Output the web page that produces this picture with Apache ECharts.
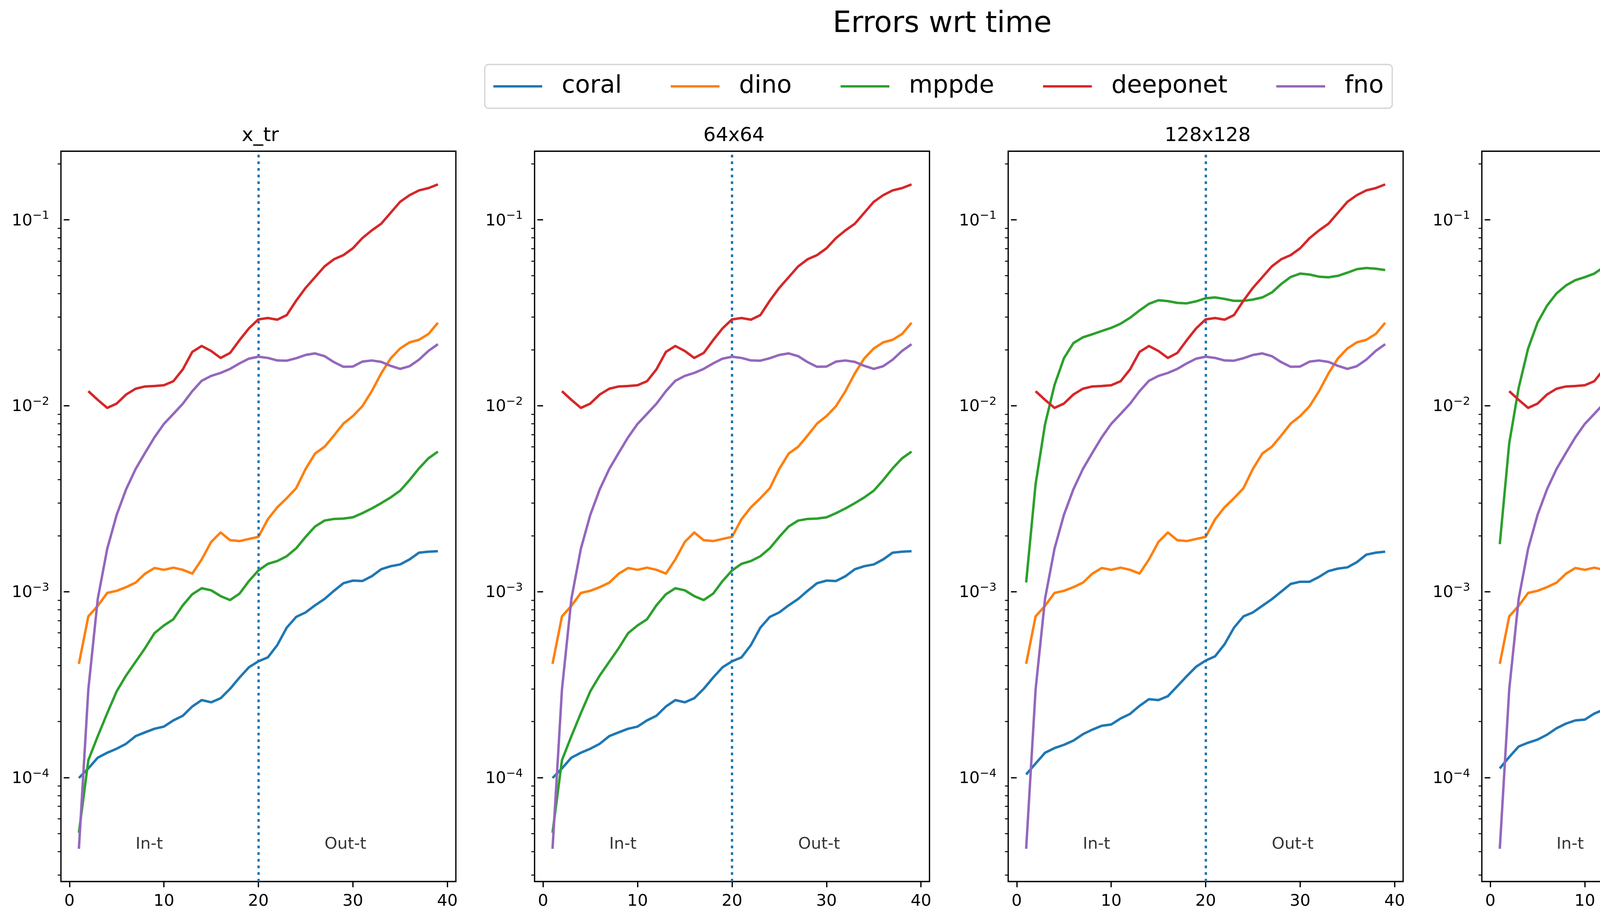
<!DOCTYPE html>
<html>
<head>
<meta charset="utf-8">
<script src="https://cdn.jsdelivr.net/npm/echarts@6/dist/echarts.min.js"></script>
<style>
  html, body { margin: 0; padding: 0; background: #fff; }
  #chart { width: 4840px; height: 2357px; }
</style>
</head>
<body>
<div id="chart"></div>
<script>
// time steps
var steps = [1,2,3,4,5,6,7,8,9,10,11,12,13,14,15,16,17,18,19,20,
             21,22,23,24,25,26,27,28,29,30,31,32,33,34,35,36,37,38,39];

// coral (x_tr and 64x64 look identical)
var coralA = [9.94e-5,1.12e-4,1.28e-4,1.36e-4,1.43e-4,1.52e-4,1.67e-4,1.75e-4,1.83e-4,1.88e-4,
              2.03e-4,2.15e-4,2.41e-4,2.61e-4,2.54e-4,2.67e-4,3.00e-4,3.45e-4,3.92e-4,4.22e-4,
              4.43e-4,5.16e-4,6.40e-4,7.31e-4,7.73e-4,8.44e-4,9.13e-4,1.01e-3,1.11e-3,1.146e-3,
              1.14e-3,1.21e-3,1.32e-3,1.37e-3,1.40e-3,1.49e-3,1.62e-3,1.64e-3,1.65e-3];
var coral128 = [1.04e-4,1.19e-4,1.36e-4,1.44e-4,1.50e-4,1.58e-4,1.71e-4,1.81e-4,1.90e-4,1.93e-4,
                2.08e-4,2.20e-4,2.43e-4,2.64e-4,2.61e-4,2.74e-4,3.10e-4,3.51e-4,3.95e-4,4.26e-4,
                4.49e-4,5.21e-4,6.40e-4,7.36e-4,7.73e-4,8.39e-4,9.10e-4,1.00e-3,1.10e-3,1.13e-3,
                1.13e-3,1.20e-3,1.29e-3,1.33e-3,1.35e-3,1.44e-3,1.58e-3,1.62e-3,1.64e-3];
var coral256 = [1.12e-4,1.29e-4,1.47e-4,1.54e-4,1.60e-4,1.70e-4,1.84e-4,1.95e-4,2.03e-4,2.05e-4,
                2.21e-4,2.32e-4,2.53e-4,2.74e-4,2.74e-4,2.87e-4,3.21e-4,3.60e-4,4.07e-4,4.38e-4,
                4.61e-4,5.32e-4,6.50e-4,7.48e-4,7.86e-4,8.50e-4,9.19e-4,1.01e-3,1.11e-3,1.14e-3,
                1.15e-3,1.22e-3,1.30e-3,1.33e-3,1.35e-3,1.44e-3,1.58e-3,1.62e-3,1.66e-3];

var dino = [4.09e-4,7.36e-4,8.39e-4,9.84e-4,1.01e-3,1.057e-3,1.117e-3,1.248e-3,1.34e-3,1.31e-3,
            1.345e-3,1.31e-3,1.25e-3,1.49e-3,1.85e-3,2.08e-3,1.89e-3,1.87e-3,1.92e-3,1.97e-3,
            2.45e-3,2.84e-3,3.18e-3,3.60e-3,4.57e-3,5.53e-3,6.01e-3,6.91e-3,8.01e-3,8.79e-3,
            9.93e-3,0.01196,0.01492,0.01795,0.0203,0.0219,0.0226,0.0243,0.0279];

// mppde (x_tr and 64x64 look identical)
var mppdeA = [5.05e-5,1.24e-4,1.67e-4,2.22e-4,2.91e-4,3.54e-4,4.19e-4,4.96e-4,5.98e-4,6.58e-4,
              7.10e-4,8.44e-4,9.68e-4,1.043e-3,1.016e-3,9.46e-4,9.01e-4,9.75e-4,1.14e-3,1.30e-3,
              1.41e-3,1.46e-3,1.55e-3,1.71e-3,1.97e-3,2.24e-3,2.41e-3,2.46e-3,2.47e-3,2.51e-3,
              2.64e-3,2.80e-3,2.99e-3,3.21e-3,3.49e-3,3.98e-3,4.60e-3,5.21e-3,5.66e-3];
var mppde128 = [1.12e-3,3.79e-3,7.94e-3,0.0129,0.0180,0.0217,0.0233,0.0242,0.0252,0.0262,
                0.0276,0.0297,0.0325,0.0353,0.0369,0.0365,0.0357,0.0355,0.0364,0.0378,
                0.0382,0.0375,0.0366,0.0366,0.0372,0.0382,0.0406,0.0451,0.0492,0.0513,
                0.0507,0.0494,0.0490,0.0499,0.0519,0.0542,0.0550,0.0545,0.0536];
var mppde256 = [1.80e-3,6.28e-3,0.01247,0.0203,0.0280,0.0345,0.0401,0.0443,0.0473,0.0491,
                0.0513,0.0555,0.0613,0.0673,0.0709,0.0701,0.0668,0.0646,0.0663,0.0706,
                0.0749,0.0763,0.0752,0.0733,0.0722,0.0743,0.0800,0.0901,0.1019,0.1089,
                0.1078,0.1038,0.1019,0.1038,0.113,0.1249,0.1355,0.1416,0.1422];

// deeponet has no value at step 1
var deeponet = [null,0.01196,0.01074,0.00973,0.01026,0.01148,0.01233,0.01268,0.01275,0.01288,
                0.01353,0.01568,0.01945,0.02094,0.01968,0.01806,0.0192,0.0225,0.02606,0.0291,
                0.0296,0.0290,0.0307,0.0367,0.0430,0.0491,0.0561,0.0613,0.0645,0.0702,
                0.0796,0.0876,0.0952,0.109,0.1248,0.1355,0.1438,0.1479,0.1549];

var fno = [4.14e-5,2.98e-4,9.16e-4,1.70e-3,2.59e-3,3.55e-3,4.56e-3,5.57e-3,6.76e-3,7.98e-3,
           9.03e-3,0.01025,0.01196,0.01361,0.01445,0.0150,0.01577,0.01687,0.0179,0.01833,
           0.01806,0.0175,0.01745,0.0180,0.01874,0.0191,0.01846,0.01714,0.01618,0.01623,
           0.01725,0.0175,0.0172,0.01637,0.01577,0.0163,0.01767,0.0197,0.0214];

var names = ['coral', 'dino', 'mppde', 'deeponet', 'fno'];
var panelTitles = ['x_tr', '64x64', '128x128', '256x256'];
var panelSeries = [
  [coralA, dino, mppdeA, deeponet, fno],
  [coralA, dino, mppdeA, deeponet, fno],
  [coral128, dino, mppde128, deeponet, fno],
  [coral256, dino, mppde256, deeponet, fno]
];

var xTicks = [0, 10, 20, 30, 40];
var yMajorTicks = [1e-4, 1e-3, 1e-2, 1e-1];
var yMinorTicks = [3e-5,4e-5,5e-5,6e-5,7e-5,8e-5,9e-5,
                   2e-4,3e-4,4e-4,5e-4,6e-4,7e-4,8e-4,9e-4,
                   2e-3,3e-3,4e-3,5e-3,6e-3,7e-3,8e-3,9e-3,
                   2e-2,3e-2,4e-2,5e-2,6e-2,7e-2,8e-2,9e-2,
                   2e-1];
var splitStep = 20;
var noteText = ['In-t', 'Out-t'];
var noteX = [7, 27];
var noteY = 4.1e-5;

var colors = ['#1f77b4', '#ff7f0e', '#2ca02c', '#d62728', '#9467bd'];
var FONT = 'DejaVu Sans';
var panelLeft = [156, 1368.5, 2581, 3793.5];
var panelW = 1011, panelTop = 387, panelH = 1869;
var xMin = -0.9, xMax = 40.9, yMin = 2.76e-5, yMax = 0.2335;

function pairs(vals) {
  var out = [];
  for (var i = 0; i < steps.length; i++) {
    out.push([steps[i], vals[i] == null ? null : vals[i]]);
  }
  return out;
}

function yLabel(v) {
  var e = Math.round(Math.log10(v));
  return '{a|10}{b|' + (e < 0 ? '\u2212' + (-e) : e) + '}';
}

var grids = [], xAxes = [], yAxes = [], series = [], titles = [];

titles.push({
  text: 'Errors wrt time', left: 2407, top: 20, textAlign: 'center',
  textStyle: { fontFamily: FONT, fontSize: 75, fontWeight: 'normal', color: '#000' }
});

for (var p = 0; p < 4; p++) {
  grids.push({
    left: panelLeft[p], top: panelTop, width: panelW, height: panelH,
    show: true, borderColor: '#000', borderWidth: 3.3, backgroundColor: 'transparent'
  });
  titles.push({
    text: panelTitles[p], left: panelLeft[p] + panelW / 2, top: 318, textAlign: 'center',
    textStyle: { fontFamily: FONT, fontSize: 50, fontWeight: 'normal', color: '#000' }
  });
  xAxes.push({
    type: 'value', gridIndex: p, min: xMin, max: xMax,
    axisLine: { show: false },
    splitLine: { show: false },
    axisTick: { show: true, customValues: xTicks, length: 14.6, lineStyle: { color: '#000', width: 3.3 } },
    axisLabel: { show: true, customValues: xTicks, margin: 30, color: '#000', fontFamily: FONT, fontSize: 41.7 }
  });
  // major ticks + labels
  yAxes.push({
    type: 'log', gridIndex: p, min: yMin, max: yMax, position: 'left',
    axisLine: { show: false },
    splitLine: { show: false },
    axisTick: { show: true, customValues: yMajorTicks, length: 14.6, lineStyle: { color: '#000', width: 3.3 } },
    axisLabel: {
      show: true, customValues: yMajorTicks, margin: 30, formatter: yLabel,
      rich: {
        a: { fontFamily: FONT, fontSize: 41.7, color: '#000', verticalAlign: 'bottom', lineHeight: 49 },
        b: { fontFamily: FONT, fontSize: 29.2, color: '#000', verticalAlign: 'top', lineHeight: 49 }
      }
    }
  });
  // minor ticks
  yAxes.push({
    type: 'log', gridIndex: p, min: yMin, max: yMax, position: 'left',
    axisLine: { show: false },
    splitLine: { show: false },
    axisTick: { show: true, customValues: yMinorTicks, length: 8.3, lineStyle: { color: '#000', width: 2.5 } },
    axisLabel: { show: false }
  });

  for (var s = 0; s < names.length; s++) {
    var ser = {
      name: names[s], type: 'line', xAxisIndex: p, yAxisIndex: p * 2,
      data: pairs(panelSeries[p][s]),
      showSymbol: false, symbol: 'none', connectNulls: false,
      color: colors[s],
      lineStyle: { color: colors[s], width: 6.25, cap: 'butt', join: 'round' },
      silent: true, z: 2 + s
    };
    if (s === names.length - 1) {
      ser.markLine = {
        silent: true, symbol: ['none', 'none'], label: { show: false },
        lineStyle: { color: '#1f77b4', width: 6, type: [7, 10] },
        data: [{ xAxis: splitStep }]
      };
    }
    series.push(ser);
  }

  series.push({
    name: 'note', type: 'scatter', xAxisIndex: p, yAxisIndex: p * 2,
    symbolSize: 0, silent: true,
    data: [[noteX[0], noteY, noteText[0]], [noteX[1], noteY, noteText[1]]],
    label: {
      show: true, position: [0, 0], align: 'left', verticalAlign: 'bottom', offset: [0, 8],
      formatter: function (d) { return d.value[2]; },
      fontFamily: FONT, fontSize: 41.7, lineHeight: 42, color: '#000'
    }
  });
}

var chart = echarts.init(document.getElementById('chart'), null, { renderer: 'canvas', width: 4840, height: 2357 });
chart.setOption({
  animation: false,
  backgroundColor: '#fff',
  title: titles,
  legend: {
    data: names, left: 1241, top: 165, orient: 'horizontal',
    padding: [18, 22], itemGap: 125, itemWidth: 125, itemHeight: 6,
    icon: 'rect', selectedMode: false,
    borderColor: '#d6d6d6', borderWidth: 3.3, borderRadius: 10, backgroundColor: '#fff',
    textStyle: { fontFamily: FONT, fontSize: 62.5, color: '#000', lineHeight: 76, padding: [0, 0, 0, 45] }
  },
  grid: grids,
  xAxis: xAxes,
  yAxis: yAxes,
  series: series
});
</script>
</body>
</html>
